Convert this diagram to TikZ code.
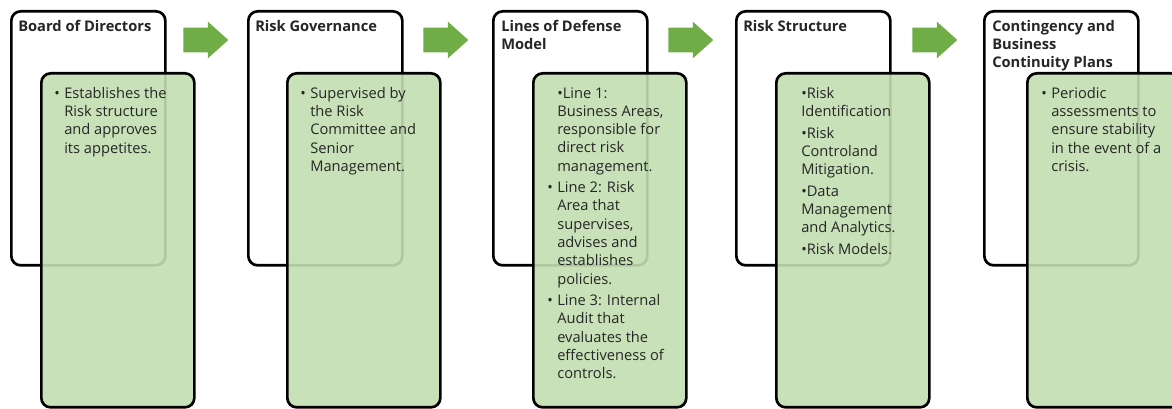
\documentclass[tikz,border=0pt]{standalone}
\usepackage{fontspec}
\setmainfont{Open Sans}
\usetikzlibrary{shapes.arrows}
\definecolor{leafgreen}{HTML}{C3DEB1}
\definecolor{arrowgreen}{HTML}{70AD47}
\definecolor{inkgray}{HTML}{262626}
% hanging bullet and matching indent for the wrapped lines
\newcommand{\bl}{\makebox[7.5pt][l]{\textbullet}}
\newcommand{\ind}{\hspace*{7.5pt}}

\begin{document}
\begin{tikzpicture}[x=0.75pt, y=-0.75pt,
    headbox/.style={draw, line width=2pt, rounded corners=7pt, fill=white, anchor=north west, inner sep=0, minimum width=115.5pt, minimum height=190.5pt},
    notebox/.style={draw, line width=2pt, rounded corners=7pt, fill=leafgreen, fill opacity=0.9, anchor=north west, inner sep=0, minimum width=114.75pt, minimum height=250.5pt},
    flow/.style={single arrow, fill=arrowgreen, anchor=tail, inner xsep=0pt, inner ysep=9pt, text height=0pt, text depth=0pt, minimum height=33.75pt, minimum width=27pt, single arrow head extend=4.5pt, single arrow tip angle=84, single arrow head indent=0pt},
    headtext/.style={anchor=north west, inner sep=0, align=left, font=\fontsize{11}{13.7}\selectfont\bfseries, text=inkgray},
    bodytext/.style={anchor=north west, inner sep=0, align=left, font=\fontsize{11}{13.7}\selectfont, text=inkgray}]
    \useasboundingbox (0,0) rectangle (1172,409);
    \clip (0,0) rectangle (1172,409);

    % Board of Directors
    \node[headbox] (board) at (10,10) {};
    \node[notebox] (boardnote) at (40,72) {};
    \node[headtext] (boardtitle) at (18,20) {Board of Directors};
    \node[bodytext] (boardtext) at (54,87) {\bl Establishes the\\ \ind Risk structure\\ \ind and approves\\ \ind its appetites.};

    % Risk Governance
    \node[headbox] (gov) at (247,10) {};
    \node[notebox] (govnote) at (286,72) {};
    \node[headtext] (govtitle) at (255,20) {Risk Governance};
    \node[bodytext] (govtext) at (300,87) {\bl Supervised by\\ \ind the Risk\\ \ind Committee and\\ \ind Senior\\ \ind Management.};

    % Lines of Defense Model
    \node[headbox] (lines) at (492,10) {};
    \node[notebox] (linesnote) at (532,72) {};
    \node[headtext] (linestitle) at (501,20) {Lines of Defense\\Model};
    \node[bodytext] (linestext) at (547,87) {\ind\textbullet Line 1:\\ \ind Business Areas,\\ \ind responsible for\\ \ind direct risk\\ \ind management.\\[2.5pt]
        \bl Line 2: Risk\\ \ind Area that\\ \ind supervises,\\ \ind advises and\\ \ind establishes\\ \ind policies.\\[2.5pt]
        \bl Line 3: Internal\\ \ind Audit that\\ \ind evaluates the\\ \ind effectiveness of\\ \ind controls.};

    % Risk Structure
    \node[headbox] (struct) at (735,10) {};
    \node[notebox] (structnote) at (775,72) {};
    \node[headtext] (structtitle) at (743,20) {Risk Structure};
    \node[bodytext] (structtext) at (801,87) {\textbullet Risk\\Identification\\[2.5pt]
        \textbullet Risk\\Controland\\Mitigation.\\[2.5pt]
        \textbullet Data\\Management\\and Analytics.\\[2.5pt]
        \textbullet Risk Models.};

    % Contingency and Business Continuity Plans
    \node[headbox] (plans) at (983,10) {};
    \node[notebox] (plansnote) at (1026,72) {};
    \node[headtext] (planstitle) at (992,20) {Contingency and\\Business\\Continuity Plans};
    \node[bodytext] (planstext) at (1041,87) {\bl Periodic\\ \ind assessments to\\ \ind ensure stability\\ \ind in the event of a\\ \ind crisis.};

    % green arrows between the stages
    \node[flow] (arr1) at (183,40) {};
    \node[flow] (arr2) at (423,40) {};
    \node[flow] (arr3) at (668,40) {};
    \node[flow] (arr4) at (912,40) {};
\end{tikzpicture}
\end{document}
